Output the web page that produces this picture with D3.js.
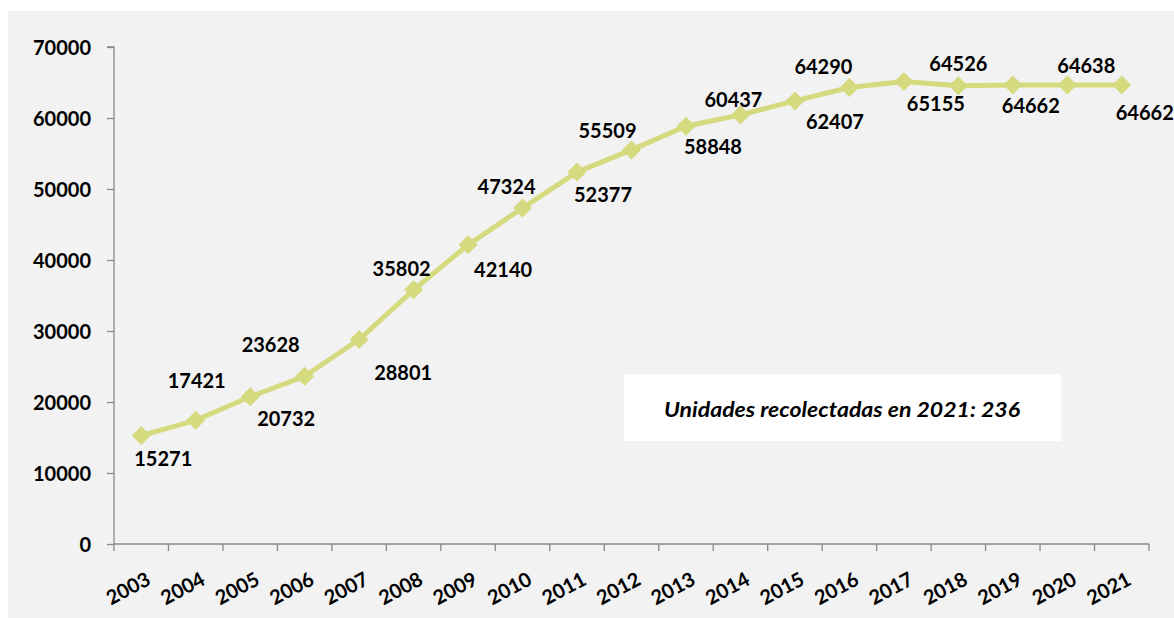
<!DOCTYPE html>
<html>
<head>
<meta charset="utf-8">
<script src="https://cdn.jsdelivr.net/npm/d3@7"></script>
<style>
  html, body { margin: 0; padding: 0; background: #ffffff; }
  svg { display: block; }
</style>
</head>
<body>
<script>
// ---- Data ----
const years = ["2003","2004","2005","2006","2007","2008","2009","2010","2011","2012",
               "2013","2014","2015","2016","2017","2018","2019","2020","2021"];
const units = [15271, 17421, 20732, 23628, 28801, 35802, 42140, 47324, 52377, 55509,
               58848, 60437, 62407, 64290, 65155, 64526, 64662, 64638, 64662];
const yTicks = [0, 10000, 20000, 30000, 40000, 50000, 60000, 70000];
const noteText = "Unidades recolectadas en 2021: 236";

// ---- Layout (label offsets from marker: [dx, dy to baseline]) ----
const labelOffsets = [[22,30],[1,-32],[36,29],[-34,-24],[44,40],[-12,-14],[35,32],[-16,-14],
  [26,30],[-24,-12],[27,28],[-7,-8],[40,28],[-26,-14],[32,30],[0,-15],[18,28],[19,-12],[23,35]];

const W = 1174, H = 618;
const plot = { left: 114, right: 1149, top: 47, bottom: 544 };
const font = "Lato, 'Open Sans', sans-serif";
const lineColor = "#d4da7d";
const axisColor = "#898989";

const svg = d3.select("body").append("svg").attr("width", W).attr("height", H);

svg.append("rect").attr("x", 8).attr("y", 11).attr("width", W - 8).attr("height", H - 11)
  .attr("fill", "#f2f2f2");

const x = d3.scaleBand().domain(years).range([plot.left, plot.right]).padding(0);
const y = d3.scaleLinear().domain([0, 70000]).range([plot.bottom, plot.top]);

// Y axis
const yAxis = d3.axisLeft(y).tickValues(yTicks).tickSize(7).tickPadding(16).tickFormat(d3.format("d"));
const gy = svg.append("g").attr("transform", `translate(${plot.left},0)`).call(yAxis);
gy.select(".domain").attr("stroke", axisColor).attr("stroke-width", 1.3).attr("d", `M-7,${plot.top}H0V${plot.bottom}`);
gy.selectAll(".tick line").attr("stroke", axisColor).attr("stroke-width", 1.3);
gy.selectAll(".tick text").attr("font-family", font).attr("font-weight", 700)
  .attr("font-size", 20).attr("fill", "#000").attr("dy", "0.36em");

// X axis: ticks at band boundaries
const gx = svg.append("g").attr("transform", `translate(0,${plot.bottom})`);
gx.append("line").attr("x1", plot.left).attr("x2", plot.right).attr("y1", 0).attr("y2", 0)
  .attr("stroke", axisColor).attr("stroke-width", 1.3);
const boundaries = years.map(d => x(d)).concat([x(years[years.length - 1]) + x.bandwidth()]);
gx.selectAll("line.tk").data(boundaries).join("line").attr("class", "tk")
  .attr("x1", d => d).attr("x2", d => d).attr("y1", 0).attr("y2", 7)
  .attr("stroke", axisColor).attr("stroke-width", 1.3);
gx.selectAll("text.yl").data(years).join("text").attr("class", "yl")
  .attr("transform", d => `translate(${x(d) + x.bandwidth() / 2 + 4},${27}) rotate(-28)`)
  .attr("text-anchor", "end").attr("dy", "0.72em")
  .attr("font-family", font).attr("font-weight", 700).attr("font-size", 20).attr("fill", "#000")
  .text(d => d);

// Line
const cx = (d, i) => x(years[i]) + x.bandwidth() / 2;
const line = d3.line().x((d, i) => cx(d, i)).y(d => y(d));
svg.append("path").datum(units).attr("d", line).attr("fill", "none")
  .attr("stroke", lineColor).attr("stroke-width", 5).attr("stroke-linejoin", "round");

// Markers (diamonds)
svg.selectAll("path.mk").data(units).join("path").attr("class", "mk")
  .attr("d", (d, i) => {
    const px = cx(d, i), py = y(d), r = 9.5;
    return `M${px},${py - r}L${px + r},${py}L${px},${py + r}L${px - r},${py}Z`;
  })
  .attr("fill", lineColor);

// Data labels
svg.selectAll("text.dl").data(units).join("text").attr("class", "dl")
  .attr("x", (d, i) => cx(d, i) + labelOffsets[i][0])
  .attr("y", (d, i) => y(d) + labelOffsets[i][1])
  .attr("text-anchor", "middle")
  .attr("font-family", font).attr("font-weight", 700).attr("font-size", 20).attr("fill", "#000")
  .text(d => d);

// Note box
svg.append("rect").attr("x", 624).attr("y", 374).attr("width", 437).attr("height", 67).attr("fill", "#ffffff");
svg.append("text").attr("x", 842).attr("y", 417).attr("text-anchor", "middle")
  .attr("font-family", font).attr("font-weight", 700).attr("font-style", "italic")
  .attr("font-size", 20).attr("fill", "#000")
  .attr("textLength", 356).attr("lengthAdjust", "spacingAndGlyphs")
  .text(noteText);
</script>
</body>
</html>
